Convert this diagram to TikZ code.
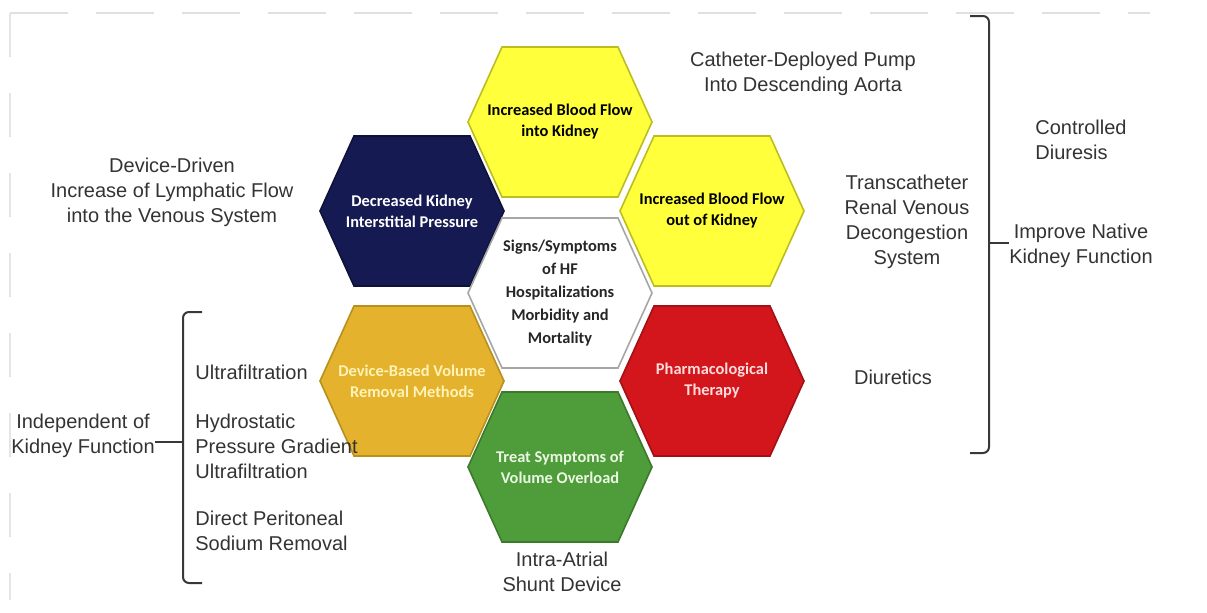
\documentclass[tikz,border=0pt]{standalone}
\usepackage{fontspec}
\setmainfont{Liberation Sans}
\newfontfamily\cellfont{Carlito}

\definecolor{hexyellow}{HTML}{FFFF3C}
\definecolor{yellowline}{HTML}{BDBD20}
\definecolor{hexnavy}{HTML}{151B52}
\definecolor{navyline}{HTML}{0E1238}
\definecolor{hexorange}{HTML}{E4B22C}
\definecolor{orangeline}{HTML}{B8901E}
\definecolor{orangetext}{HTML}{FFF3B8}
\definecolor{hexred}{HTML}{D2161C}
\definecolor{redline}{HTML}{A31015}
\definecolor{redtext}{HTML}{FFDCDC}
\definecolor{hexgreen}{HTML}{4F9C3A}
\definecolor{greenline}{HTML}{3B7A2B}
\definecolor{greentext}{HTML}{EAF7E2}

\tikzset{
  cell/.style={line width=0.8pt},
  celltext/.style={align=center, font=\cellfont\bfseries\fontsize{8.2}{10.5}\selectfont},
  lbl/.style={align=center, inner sep=0pt, text=black!80, font=\fontsize{10}{12.5}\selectfont},
  lblleft/.style={lbl, align=left},
  bracket/.style={line width=1pt, black!78, rounded corners=3pt}
}

% name, x, y, fill, border, text colour, text
\newcommand{\hexcell}[7]{%
  \draw[cell, fill=#4, draw=#5, shift={(#2,#3)}] (-92,0) -- (-58,-75) -- (58,-75) -- (92,0) -- (58,75) -- (-58,75) -- cycle;
  \node[celltext, text=#6] (#1) at (#2,#3) {#7};
}

\begin{document}
\begin{tikzpicture}[x=0.5pt, y=-0.5pt]
    \useasboundingbox (0,0) rectangle (1207,612);

    % faint slide frame
    \draw[black!12, line width=0.6pt, dash pattern=on 29pt off 14pt] (10,13) -- (1150,13);
    \draw[black!10, line width=0.6pt, dash pattern=on 22pt off 18pt] (10,13) -- (10,600);

    \hexcell{inflow}{560}{122}{hexyellow}{yellowline}{black}{Increased Blood Flow\\into Kidney}
    \hexcell{interstitial}{412}{211}{hexnavy}{navyline}{white}{Decreased Kidney\\Interstitial Pressure}
    \hexcell{outflow}{712}{211}{hexyellow}{yellowline}{black}{Increased Blood Flow\\out of Kidney}
    \hexcell{symptoms}{560}{293}{white}{black!35}{black!85}{Signs/Symptoms\\[1pt]of HF\\[1pt]Hospitalizations\\[1pt]Morbidity and\\[1pt]Mortality}
    \hexcell{removal}{412}{381}{hexorange}{orangeline}{orangetext}{Device-Based Volume\\Removal Methods}
    \hexcell{pharma}{712}{381}{hexred}{redline}{redtext}{Pharmacological\\Therapy}
    \hexcell{overload}{560}{467}{hexgreen}{greenline}{greentext}{Treat Symptoms of\\Volume Overload}

    \node[lbl] (pump) at (803,74) {Catheter-Deployed Pump\\Into Descending Aorta};
    \node[lbl] (lymph) at (172,192) {Device-Driven\\Increase of Lymphatic Flow\\into the Venous System};
    \node[lbl] (venous) at (907,222) {Transcatheter\\Renal Venous\\Decongestion\\System};
    \node[lbl] (diuretics) at (893,377) {Diuretics};
    \node[lbl] (shunt) at (562,572) {Intra-Atrial\\Shunt Device};
    \node[lblleft, anchor=west] (diuresis) at (1035,140) {Controlled\\Diuresis};
    \node[lbl] (native) at (1081,246) {Improve Native\\Kidney Function};

    \node[lbl] (independent) at (83,436) {Independent of\\Kidney Function};
    \node[lblleft, anchor=west] (uf) at (195,372) {Ultrafiltration};
    \node[lblleft, anchor=west] (hydro) at (195,446) {Hydrostatic\\Pressure Gradient\\Ultrafiltration};
    \node[lblleft, anchor=west] (peritoneal) at (195,531) {Direct Peritoneal\\Sodium Removal};

    % brackets
    \draw[bracket] (970,16) -- (989,16) -- (989,453) -- (970,453);
    \coordinate (rtip) at (989,243);
    \draw[bracket] (rtip) -- (native.west |- rtip);

    \draw[bracket] (202,312) -- (183,312) -- (183,583) -- (202,583);
    \coordinate (ltip) at (183,442);
    \draw[bracket] (ltip) -- (independent.east |- ltip);
\end{tikzpicture}
\end{document}
